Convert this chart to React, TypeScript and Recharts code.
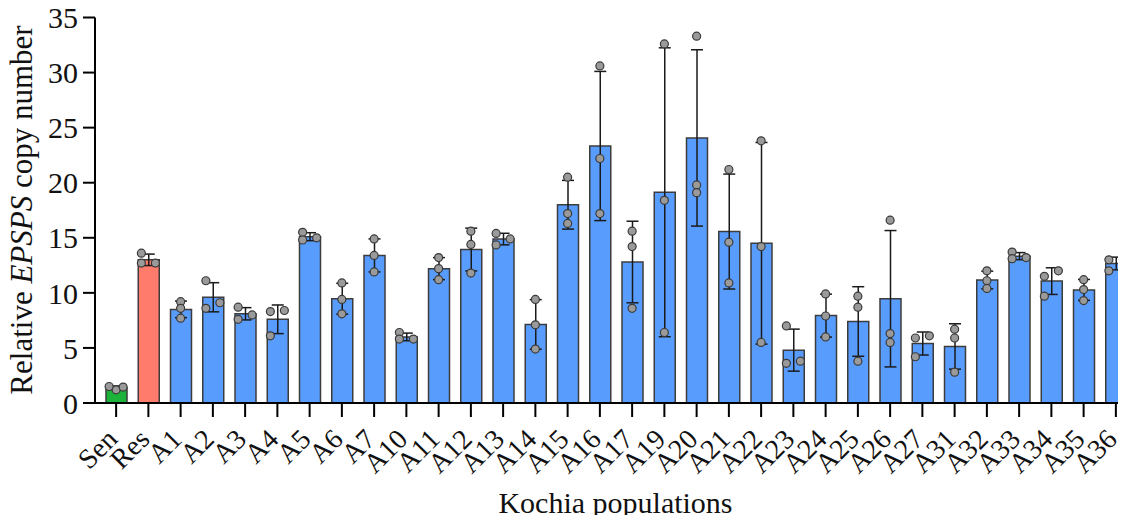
import React from 'react';
import { ComposedChart, Bar, Scatter, XAxis, YAxis, ErrorBar, Cell, Label } from 'recharts';

const populations = ['Sen', 'Res', 'A1', 'A2', 'A3', 'A4', 'A5', 'A6', 'A7', 'A10', 'A11', 'A12', 'A13', 'A14', 'A15', 'A16', 'A17', 'A19', 'A20', 'A21', 'A22', 'A23', 'A24', 'A25', 'A26', 'A27', 'A31', 'A32', 'A33', 'A34', 'A35', 'A36'];
const rep1 = [1.2, 13.6, 9.2, 11.1, 8.7, 8.3, 15.5, 10.9, 14.9, 6.4, 13.2, 15.6, 15.4, 9.4, 20.5, 30.6, 15.6, 32.6, 33.3, 21.2, 23.8, 7.0, 9.9, 9.7, 16.6, 6.1, 6.7, 12.0, 13.7, 12.0, 11.2, 13.0];
const rep2 = [1.5, 12.7, 8.6, 8.6, 7.6, 8.4, 14.8, 9.4, 13.4, 5.8, 12.2, 14.4, 14.35, 7.1, 17.2, 22.2, 14.2, 18.4, 19.8, 14.6, 14.2, 3.6, 7.9, 8.7, 6.3, 5.9, 5.9, 11.1, 13.1, 11.5, 10.3, 13.0];
const rep3 = [1.45, 12.7, 7.7, 9.1, 8.0, 6.1, 15.0, 8.1, 11.9, 5.8, 11.2, 11.8, 14.9, 4.9, 16.3, 17.2, 8.6, 6.4, 19.1, 10.9, 5.5, 3.8, 6.0, 3.8, 5.5, 4.2, 2.8, 10.4, 13.2, 9.7, 9.3, 12.0];
const groupOf = (name: string) => (name === 'Sen' ? 'sensitive' : name === 'Res' ? 'resistant' : 'field');
const yTicks = [0, 5, 10, 15, 20, 25, 30, 35];

const COLORS: Record<string, string> = { sensitive: '#1DB33A', resistant: '#FF7B6C', field: '#589DFE' };
const FONT = '"Liberation Serif", "Times New Roman", serif';

const CHART_W = 1132;
const CHART_H = 523;
const TOP = 17.5;
const X_AXIS_H = 120;
const PLOT_H = CHART_H - TOP - X_AXIS_H;
const PX_PER_UNIT = PLOT_H / 35;

function swarm(vals: number[]): number[] {
  const step = 7;
  const minDist = 6.5;
  const order = vals.map((v, i) => i).sort((a, b) => vals[a] - vals[b]);
  const placed: { y: number; x: number; i: number }[] = [];
  const cands = [0, step, -step, 2 * step, -2 * step];
  order.forEach((i) => {
    const y = vals[i] * PX_PER_UNIT;
    for (const c of cands) {
      const ok = placed.every((p) => Math.hypot(p.x - c, p.y - y) >= minDist);
      if (ok) {
        placed.push({ y, x: c, i });
        break;
      }
    }
  });
  const xs = placed.map((p) => p.x);
  const mn = Math.min(...xs);
  const mx = Math.max(...xs);
  const mid = (mn + mx) / 2;
  const cols = new Set(xs).size;
  const out: number[] = new Array(vals.length).fill(0);
  placed.forEach((p) => {
    out[p.i] = (p.x - mid) * (cols === 2 ? 2 : 1);
  });
  return out;
}

const data = populations.map((name, i) => {
  const reps = [rep1[i], rep2[i], rep3[i]];
  const mean = reps.reduce((a, b) => a + b, 0) / reps.length;
  const sd = Math.sqrt(reps.reduce((a, b) => a + (b - mean) * (b - mean), 0) / (reps.length - 1));
  const off = swarm(reps);
  return { name, group: groupOf(name), mean, sd, p1: reps[0], p2: reps[1], p3: reps[2], o1: off[0], o2: off[1], o3: off[2] };
});

const makeDot = (key: string) => (props: any) => {
  const { cx, cy, payload } = props;
  if (cx == null || cy == null) return <g />;
  return <circle cx={cx + (payload?.[key] ?? 0)} cy={cy} r={4} fill="#9A9A9A" stroke="#3A3A3A" strokeWidth={1.2} />;
};

const XTick = (props: any) => {
  const { x, y, payload } = props;
  const tx = x - 4;
  const ty = y + 15;
  return (
    <text x={tx} y={ty} transform={`rotate(-45, ${tx}, ${ty})`} textAnchor="end" dominantBaseline="central" fontFamily={FONT} fontSize={28} fill="#111">
      {payload.value}
    </text>
  );
};

const YTitle = (props: any) => {
  const cx = 32;
  const cy = 210;
  return (
    <text x={cx} y={cy} transform={`rotate(-90, ${cx}, ${cy})`} textAnchor="middle" fontFamily={FONT} fontSize={31} fill="#111">
      <tspan>Relative </tspan>
      <tspan fontStyle="italic">EPSPS</tspan>
      <tspan> copy number</tspan>
    </text>
  );
};

const XTitle = (props: any) => {
  const vb = props.viewBox || {};
  const cx = (vb.x ?? 0) + (vb.width ?? 0) / 2 + 2;
  return (
    <text x={cx} y={513} textAnchor="middle" fontFamily={FONT} fontSize={30} fill="#111">
      Kochia populations
    </text>
  );
};

export default function App() {
  return (
    <div style={{ margin: -8, width: 1126, height: 523, overflow: 'hidden', position: 'relative', background: '#fff' }}>
      <ComposedChart width={CHART_W} height={CHART_H} data={data} margin={{ top: TOP, right: 0, left: 0, bottom: 0 }}>
        <XAxis
          dataKey="name"
          type="category"
          allowDuplicatedCategory={false}
          height={X_AXIS_H}
          padding={{ left: 5, right: 0 }}
          axisLine={{ stroke: '#000', strokeWidth: 2 }}
          tickLine={{ stroke: '#000', strokeWidth: 2 }}
          tickSize={14}
          tickMargin={2}
          interval={0}
          tick={<XTick />}
        >
          <Label content={<XTitle />} position="bottom" />
        </XAxis>
        <YAxis
          type="number"
          domain={[0, 35]}
          ticks={yTicks}
          width={95}
          axisLine={{ stroke: '#000', strokeWidth: 2 }}
          tickLine={{ stroke: '#000', strokeWidth: 2 }}
          tickSize={12}
          tickMargin={5}
          tick={{ fontFamily: FONT, fontSize: 30, fill: '#111' }}
        >
          <Label content={<YTitle />} />
        </YAxis>
        <Bar dataKey="mean" barSize={21} stroke="#3C3C3C" strokeWidth={1.5} isAnimationActive={false}>
          {data.map((d) => (
            <Cell key={d.name} fill={COLORS[d.group]} />
          ))}
          <ErrorBar dataKey="sd" width={6} stroke="#1A1A1A" strokeWidth={1.5} direction="y" />
        </Bar>
        <Scatter dataKey="p1" shape={makeDot('o1')} isAnimationActive={false} />
        <Scatter dataKey="p2" shape={makeDot('o2')} isAnimationActive={false} />
        <Scatter dataKey="p3" shape={makeDot('o3')} isAnimationActive={false} />
      </ComposedChart>
    </div>
  );
}
